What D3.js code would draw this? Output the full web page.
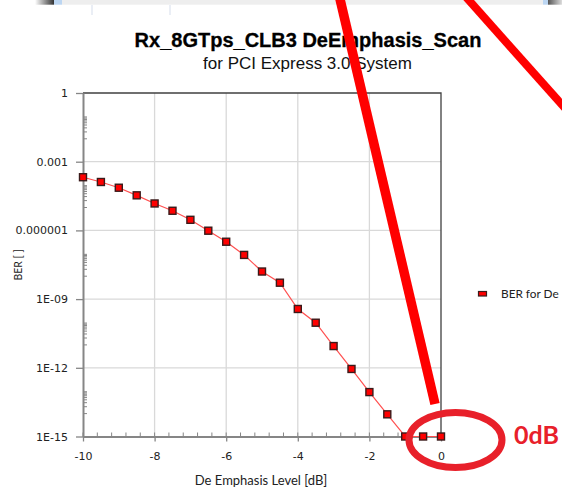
<!DOCTYPE html>
<html>
<head>
<meta charset="utf-8">
<script src="https://cdn.jsdelivr.net/npm/d3@7"></script>
<style>
  html, body { margin: 0; padding: 0; background: #fff; overflow: hidden; }
  svg { display: block; }
</style>
</head>
<body>
<svg id="chart" width="562" height="490"></svg>
<script>
// ---- data ----
const deEmphasis = [-10, -9.5, -9, -8.5, -8, -7.5, -7, -6.5, -6, -5.5, -5, -4.5, -4, -3.5, -3, -2.5, -2, -1.5, -1, -0.5, 0];
const ber = [2.1e-4, 1.3e-4, 7.3e-5, 3.4e-5, 1.5e-5, 7.2e-6, 2.9e-6, 9.7e-7, 3.2e-7, 8.5e-8, 1.6e-8, 5.2e-9, 3.7e-10, 9.3e-11, 8.9e-12, 8.9e-13, 8.7e-14, 9.3e-15, 1e-15, 1e-15, 1e-15];
const yTickValues = [1, 1e-3, 1e-6, 1e-9, 1e-12, 1e-15];
const yTickLabels = ["1", "0.001", "0.000001", "1E-09", "1E-12", "1E-15"];
const xTickValues = [-10, -8, -6, -4, -2, 0];
const xTickLabels = ["-10", "-8", "-6", "-4", "-2", "0"];
const xMinorTicks = d3.range(-10, 0.001, 0.4);
const yMinorTicks = [];
[1e-15, 1e-12, 1e-9, 1e-6, 1e-3].forEach(lo => { for (let k = 1; k <= 9; k++) yMinorTicks.push(lo * 10 * k); });
const title = "Rx_8GTps_CLB3 DeEmphasis_Scan";
const subtitle = "for PCI Express 3.0 System";
const xTitle = "De Emphasis Level [dB]";
const yTitle = "BER [ ]";
const legendLabel = "BER for De";
const noteLabel = "0dB";

// ---- layout ----
const svg = d3.select("#chart");
const L = 83, R = 441, T = 93, B = 436.5;
const x = d3.scaleLinear().domain([-10, 0]).range([L, R]);
const y = d3.scaleLog().domain([1e-15, 1]).range([B, T]);

// window chrome strip at top
svg.append("rect").attr("x", 62).attr("y", 0).attr("width", 481).attr("height", 4.7).attr("fill", "#eeeeee");
const defs = svg.append("defs");
const gl = defs.append("linearGradient").attr("id", "gl");
gl.append("stop").attr("offset", "0%").attr("stop-color", "#ffffff");
gl.append("stop").attr("offset", "100%").attr("stop-color", "#333333");
svg.append("rect").attr("x", 35).attr("y", 0).attr("width", 19).attr("height", 4.7).attr("fill", "url(#gl)");
svg.append("rect").attr("x", 54).attr("y", 0).attr("width", 8).attr("height", 4.7).attr("fill", "#bcd6f2");
const gr = defs.append("linearGradient").attr("id", "gr");
gr.append("stop").attr("offset", "0%").attr("stop-color", "#555555");
gr.append("stop").attr("offset", "100%").attr("stop-color", "#dddddd");
svg.append("rect").attr("x", 543).attr("y", 0).attr("width", 5).attr("height", 4.7).attr("fill", "#bcd6f2");
svg.append("rect").attr("x", 548).attr("y", 0).attr("width", 14).attr("height", 4.7).attr("fill", "url(#gr)");
[92, 170].forEach(px => svg.append("line").attr("x1", px).attr("x2", px).attr("y1", 5).attr("y2", 15).attr("stroke", "#dce3ef").attr("stroke-width", 1.2));

// titles
svg.append("text").attr("x", 308).attr("y", 47).attr("text-anchor", "middle")
  .attr("font-family", "'Liberation Sans', Arial, sans-serif").attr("font-weight", "bold").attr("font-size", 20)
  .attr("fill", "#000").attr("stroke", "#000").attr("stroke-width", 0.3).text(title);
svg.append("text").attr("x", 307.5).attr("y", 69).attr("text-anchor", "middle")
  .attr("font-family", "'Liberation Sans', Arial, sans-serif").attr("font-size", 17)
  .attr("fill", "#111").text(subtitle);

// gridlines
svg.append("g").selectAll("line").data(yTickValues.slice(1, -1)).join("line")
  .attr("x1", L).attr("x2", R).attr("y1", d => y(d)).attr("y2", d => y(d))
  .attr("stroke", "#d9d9d9").attr("stroke-width", 1.3);
svg.append("g").selectAll("line").data(xTickValues.slice(1, -1)).join("line")
  .attr("y1", T).attr("y2", B).attr("x1", d => x(d)).attr("x2", d => x(d))
  .attr("stroke", "#d9d9d9").attr("stroke-width", 1.3);

// plot border (top & right)
svg.append("path").attr("d", `M${L},${T}H${R}V${B}`).attr("fill", "none").attr("stroke", "#404040").attr("stroke-width", 1.3);

// minor ticks
svg.append("g").selectAll("line").data(yMinorTicks).join("line")
  .attr("x1", L).attr("x2", L + 4).attr("y1", d => y(d)).attr("y2", d => y(d))
  .attr("stroke", "#868686").attr("stroke-width", 1);
svg.append("g").selectAll("line").data(xMinorTicks).join("line")
  .attr("y1", B).attr("y2", B - 4).attr("x1", d => x(d)).attr("x2", d => x(d))
  .attr("stroke", "#868686").attr("stroke-width", 1);

// axes
const tickFont = "'DejaVu Sans', Verdana, sans-serif";
const yAxis = svg.append("g").attr("transform", `translate(${L},0)`)
  .call(d3.axisLeft(y).tickValues(yTickValues).tickFormat((d, i) => yTickLabels[i]).tickSize(7).tickPadding(8).tickSizeOuter(0));
const xAxis = svg.append("g").attr("transform", `translate(0,${B})`)
  .call(d3.axisBottom(x).tickValues(xTickValues).tickFormat((d, i) => xTickLabels[i]).tickSize(5).tickPadding(11).tickSizeOuter(0));
[yAxis, xAxis].forEach(g => {
  g.select(".domain").attr("stroke", "#868686").attr("stroke-width", 2);
  g.selectAll(".tick line").attr("stroke", "#868686").attr("stroke-width", 1.3);
  g.selectAll(".tick text").attr("font-family", tickFont).attr("font-size", 11).attr("fill", "#222");
});

// axis titles
svg.append("text").attr("x", 261).attr("y", 485).attr("text-anchor", "middle")
  .attr("font-family", "Lato, 'Open Sans', sans-serif").attr("font-size", 13).attr("fill", "#222").text(xTitle);
svg.append("text").attr("transform", "translate(22,265) rotate(-90)").attr("text-anchor", "middle")
  .attr("font-family", "Lato, 'Open Sans', sans-serif").attr("font-size", 10.5).attr("fill", "#222").text(yTitle);

// series
const pts = deEmphasis.map((d, i) => [d, ber[i]]);
svg.append("path").datum(pts)
  .attr("d", d3.line().x(d => x(d[0])).y(d => y(d[1])))
  .attr("fill", "none").attr("stroke", "#ff5050").attr("stroke-width", 1.2);
svg.append("g").selectAll("rect").data(pts).join("rect")
  .attr("x", d => x(d[0]) - 3.5).attr("y", d => y(d[1]) - 3.5)
  .attr("width", 7).attr("height", 7)
  .attr("fill", "#ff0000").attr("stroke", "#3a1a1a").attr("stroke-width", 1.4);

// legend
svg.append("rect").attr("x", 478.5).attr("y", 291.5).attr("width", 8).attr("height", 4.5)
  .attr("fill", "#ff0000").attr("stroke", "#3a1a1a").attr("stroke-width", 1.2);
svg.append("text").attr("x", 501).attr("y", 297.5).attr("font-family", "Lato, 'Open Sans', sans-serif")
  .attr("font-size", 11.8).attr("fill", "#222").text(legendLabel);

// red annotations
svg.append("line").attr("x1", 339.5).attr("y1", -3).attr("x2", 435).attr("y2", 404)
  .attr("stroke", "#ff0000").attr("stroke-width", 9.5);
svg.append("line").attr("x1", 466).attr("y1", -3).attr("x2", 580).attr("y2", 125)
  .attr("stroke", "#ff0000").attr("stroke-width", 8);
svg.append("ellipse").attr("cx", 455.5).attr("cy", 440).attr("rx", 46.5).attr("ry", 27.5)
  .attr("fill", "none").attr("stroke", "#e8202a").attr("stroke-width", 7);
svg.append("text").attr("x", 514).attr("y", 443.5).attr("font-family", "Lato, 'Open Sans', sans-serif")
  .attr("font-weight", "bold").attr("font-size", 25).attr("fill", "#e8202a").text(noteLabel);
</script>
</body>
</html>
